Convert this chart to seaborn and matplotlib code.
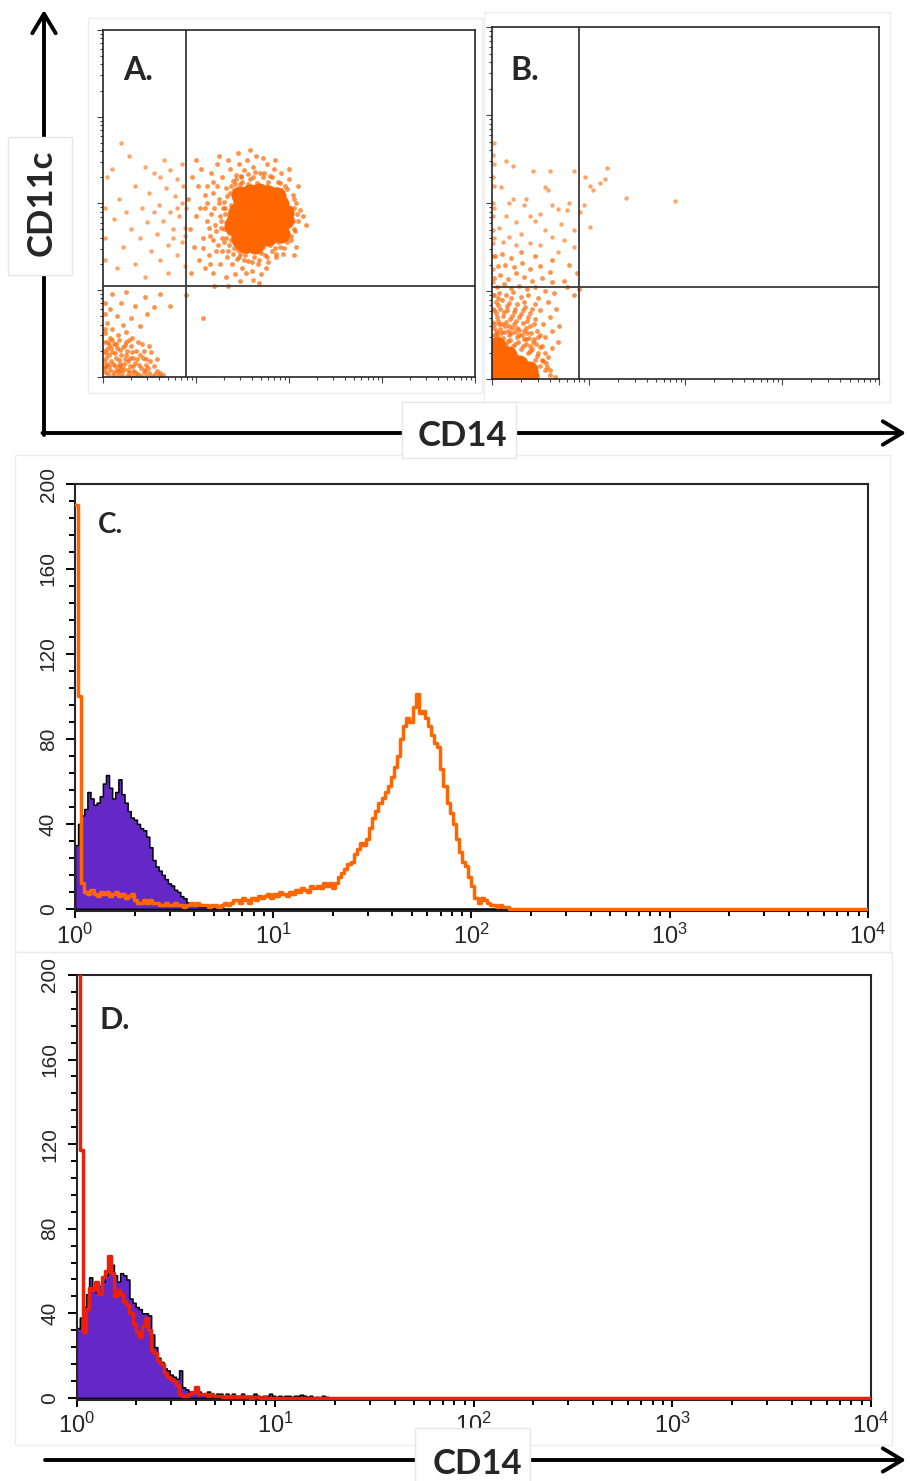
import numpy as np
import matplotlib
matplotlib.use("Agg")
import matplotlib.pyplot as plt
import matplotlib.ticker as mticker
from matplotlib.patches import Rectangle, FancyArrowPatch
import seaborn as sns

W, H = 910, 1481
sns.set_style("white")
plt.rcParams["font.family"] = ["Liberation Sans", "DejaVu Sans"]

ORANGE = "#ff6600"
PURPLE = "#6428c8"
RED = "#e8200c"
FRAME = "#262626"

# --- flow histograms: 256 log channels over 4 decades (64 per decade) ---
N_CH = 256
C_PURPLE = [30, 40, 44, 47, 55, 52, 49, 50, 53, 59, 63, 57, 52, 55, 61, 54, 50, 46, 43, 42,
            40, 38, 37, 34, 29, 23, 20, 18, 16, 14, 12, 11, 9, 8, 6, 5, 3, 3, 2, 2,
            1, 1, 1, 1, 0.5, 0.5, 1, 0.5]
C_ORANGE = [190, 100, 12,
            8, 7, 9, 7, 6, 8, 7, 8, 6, 7, 8, 6, 7, 5, 6, 7,
            4, 3, 3, 4, 3, 4, 3, 3, 2,
            2, 3, 2, 2, 3, 2, 2, 1, 2,
            3, 2, 3, 2, 2,
            2, 1, 2, 2, 1, 2,
            3, 2, 3, 4,
            4, 3, 5, 4, 3, 5, 4, 6, 5,
            6, 7, 5, 7,
            6, 8, 7, 6, 8, 7, 9,
            8, 10, 9, 8, 11, 10,
            11, 10, 12, 11, 12, 10, 12, 15,
            17, 19, 21, 22,
            26, 28, 31, 30, 33, 38,
            43, 46, 50, 52,
            55, 58, 62, 67,
            72, 80, 86, 90,
            88, 95, 101,
            92, 93, 90,
            86, 82, 78, 76,
            66, 58, 50,
            45, 40, 33,
            27, 22, 20,
            15, 11, 5,
            3, 5, 4, 3,
            2, 2, 1, 2, 1, 1]
D_PURPLE = [33, 38, 43, 49, 57, 52, 50, 53, 55, 58, 60, 63, 58, 55, 59, 58, 56, 47, 45, 43,
            42, 40, 40, 39, 30, 24, 19, 17, 14, 13, 11, 10, 9, 13, 5, 4, 3, 3, 4, 3,
            2, 2, 3, 2, 1, 2, 2, 1, 2, 1, 2, 1, 1, 2, 1, 1, 1, 2, 1, 0.5,
            1, 1, 2, 1, 0.5, 1, 0.5, 1, 1, 0.5, 1, 1, 1.5, 1, 0.5, 1, 0, 0.5, 0, 1, 0.5]
D_RED = [230, 117, 31, 42, 52, 51, 55, 49, 57, 60, 67, 59, 48, 51, 49, 46, 44, 40, 35, 31,
         29, 34, 38, 32, 22, 21, 18, 16, 12, 10, 9, 8, 6, 2, 1, 1, 2, 3, 5, 2,
         2, 2, 1, 2, 1, 1, 1, 0.5, 1, 0.5, 1, 0.5, 0.5, 1, 0.5, 0.5, 0, 0.5, 0.5, 0, 0.5]
Y_TICKS = [0, 40, 80, 120, 160, 200]
X_TICKS = [1, 10, 100, 1000, 10000]
X_TICK_LABELS = [r"$\mathregular{10^{0}}$", r"$\mathregular{10^{1}}$", r"$\mathregular{10^{2}}$",
                 r"$\mathregular{10^{3}}$", r"$\mathregular{10^{4}}$"]

# --- dot plots, coordinates in decades (log10 of intensity) ---
A_CORE = [(1.58, 2.12), (1.68, 2.13), (1.78, 2.11), (1.87, 2.08),
          (1.50, 2.02), (1.60, 2.01), (1.70, 2.00), (1.80, 2.01), (1.91, 1.99),
          (1.44, 1.90), (1.55, 1.91), (1.65, 1.90), (1.75, 1.91), (1.85, 1.90), (1.96, 1.89),
          (1.42, 1.80), (1.54, 1.81), (1.64, 1.80), (1.74, 1.79), (1.84, 1.80), (1.96, 1.81),
          (1.45, 1.69), (1.56, 1.71), (1.66, 1.70), (1.76, 1.70), (1.87, 1.71),
          (1.48, 1.59), (1.58, 1.60), (1.68, 1.59), (1.78, 1.61), (1.40, 1.74), (1.53, 1.53),
          (1.64, 1.52), (1.92, 1.65), (1.47, 2.10)]
A_HALO = [(1.05, 1.95), (1.10, 2.10), (1.12, 1.80), (1.15, 1.62), (1.18, 2.25), (1.20, 1.95),
          (1.22, 1.45), (1.25, 2.05), (1.27, 1.72), (1.28, 2.30), (1.30, 1.55), (1.31, 1.88),
          (1.33, 2.18), (1.34, 1.38), (1.36, 1.66), (1.37, 2.40), (1.38, 1.98), (1.39, 1.30),
          (1.40, 2.26), (1.41, 1.48), (1.43, 2.33), (1.44, 1.36), (1.46, 2.45), (1.47, 1.42),
          (1.49, 2.30), (1.50, 1.25), (1.52, 2.38), (1.53, 1.40), (1.55, 2.50), (1.56, 1.33),
          (1.58, 2.28), (1.60, 1.22), (1.62, 2.42), (1.63, 1.38), (1.65, 2.55), (1.67, 1.30),
          (1.69, 2.35), (1.70, 1.18), (1.72, 2.30), (1.74, 1.40), (1.76, 2.45), (1.78, 1.32),
          (1.80, 2.32), (1.82, 1.45), (1.84, 2.40), (1.86, 1.38), (1.88, 2.25), (1.90, 1.50),
          (1.92, 2.35), (1.94, 1.42), (1.96, 2.20), (1.98, 1.55), (2.00, 2.28), (2.02, 1.62),
          (2.04, 2.10), (2.06, 1.70), (2.08, 2.00), (2.10, 1.80), (2.12, 1.92), (2.15, 1.85),
          (0.92, 2.05), (0.94, 1.70), (0.96, 2.30), (0.98, 1.50), (1.00, 1.85), (1.02, 2.20),
          (1.04, 1.35), (1.06, 2.40), (1.08, 1.60), (1.10, 1.25), (1.12, 2.00), (1.14, 1.40),
          (1.16, 2.35), (1.19, 1.20), (1.21, 1.75), (1.23, 2.45), (1.26, 1.30), (1.29, 1.95),
          (1.32, 1.15), (1.35, 2.50), (1.42, 1.18), (1.48, 1.10), (1.54, 1.20), (1.61, 1.12),
          (1.68, 1.08), (1.75, 1.25), (1.45, 2.58), (1.58, 2.62), (1.72, 2.52), (1.85, 2.50),
          (2.00, 2.40), (2.08, 1.50), (2.10, 2.20), (2.18, 1.75), (1.35, 1.05), (1.20, 1.05),
          (0.95, 1.20), (1.00, 2.50), (1.25, 2.55), (2.05, 1.40), (1.28, 1.60), (1.30, 2.02),
          (1.32, 1.78), (1.35, 1.45), (1.37, 2.12), (1.40, 1.62), (1.42, 2.22), (1.45, 1.46),
          (1.50, 2.25), (1.55, 1.45), (1.62, 2.30), (1.70, 1.43), (1.78, 2.25), (1.85, 1.48),
          (1.92, 2.15), (1.98, 1.65), (2.02, 1.95), (2.04, 1.80), (1.26, 1.85), (1.24, 1.52),
          (1.30, 1.70), (1.31, 1.95), (1.33, 1.60), (1.34, 2.08), (1.36, 1.52), (1.38, 2.20),
          (1.40, 1.42), (1.43, 2.28), (1.46, 1.38), (1.49, 2.32), (1.52, 1.35), (1.56, 2.34),
          (1.60, 1.32), (1.64, 2.36), (1.68, 1.35), (1.73, 2.35), (1.77, 1.38), (1.82, 2.30),
          (1.86, 1.42), (1.90, 2.24), (1.95, 1.48), (1.98, 2.16), (2.02, 1.58), (2.05, 2.05),
          (2.07, 1.68), (2.09, 1.88), (2.06, 1.95), (1.27, 1.80), (1.25, 2.00), (1.28, 1.45),
          (1.18, 1.58), (1.16, 1.88), (1.19, 2.12), (1.22, 1.68), (1.23, 2.20), (1.14, 1.72),
          (1.10, 1.95), (1.08, 1.48), (1.12, 2.20), (1.15, 1.30), (1.36, 1.88), (1.38, 1.58),
          (1.41, 2.15), (1.44, 1.50), (1.47, 2.22), (1.50, 1.47), (1.94, 2.05), (1.97, 1.75),
          (2.00, 1.85), (1.62, 1.48), (1.72, 1.50), (1.80, 1.52), (1.66, 2.24), (1.56, 2.22),
          (1.76, 2.20), (1.86, 2.17), (1.92, 1.60), (1.88, 1.55), (1.43, 1.98), (1.40, 1.85)]
A_UPPER_LEFT = [(0.20, 2.70), (0.28, 2.55), (0.10, 2.40), (0.45, 2.42), (0.55, 2.35), (0.62, 2.30),
                (0.72, 2.38), (0.80, 2.28), (0.86, 2.20), (0.68, 2.18), (0.50, 2.12), (0.35, 2.20),
                (0.18, 2.05), (0.05, 2.30), (0.78, 2.08), (0.85, 2.00), (0.60, 1.98), (0.42, 1.95),
                (0.25, 1.90), (0.72, 1.90), (0.82, 1.85), (0.65, 1.80), (0.48, 1.78), (0.30, 1.70),
                (0.12, 1.82), (0.88, 1.72), (0.75, 1.70), (0.58, 1.65), (0.40, 1.60), (0.85, 1.55),
                (0.70, 1.52), (0.52, 1.45), (0.22, 1.50), (0.80, 1.40), (0.62, 1.35), (0.35, 1.30),
                (0.88, 1.28), (0.15, 1.25), (0.70, 1.20), (0.45, 1.15), (0.02, 1.95), (0.02, 1.60),
                (0.02, 1.35), (0.85, 2.45), (0.66, 2.50), (0.90, 1.95), (0.88, 1.62), (0.76, 1.60),
                (0.55, 1.90), (0.80, 1.95)]
A_LOWER_LEFT = [(0.10, 0.95), (0.25, 0.98), (0.45, 0.92), (0.62, 0.95), (0.20, 0.85), (0.35, 0.82),
                (0.08, 0.78), (0.55, 0.80), (0.72, 0.82), (0.15, 0.70), (0.30, 0.68), (0.48, 0.72),
                (0.05, 0.62), (0.22, 0.60), (0.40, 0.58), (0.90, 0.94), (1.08, 0.68), (0.02, 0.85),
                (0.02, 0.72), (0.02, 0.55), (0.03, 0.40), (0.08, 0.45), (0.12, 0.38), (0.18, 0.42),
                (0.25, 0.40), (0.30, 0.35), (0.36, 0.30), (0.42, 0.38), (0.05, 0.32), (0.10, 0.28),
                (0.15, 0.33), (0.20, 0.25), (0.26, 0.30), (0.33, 0.22), (0.40, 0.25), (0.47, 0.20),
                (0.52, 0.28), (0.04, 0.22), (0.09, 0.18), (0.14, 0.22), (0.19, 0.15), (0.24, 0.20),
                (0.29, 0.12), (0.35, 0.16), (0.41, 0.10), (0.46, 0.14), (0.55, 0.12), (0.03, 0.12),
                (0.08, 0.08), (0.13, 0.12), (0.18, 0.06), (0.23, 0.09), (0.28, 0.04), (0.33, 0.07),
                (0.38, 0.03), (0.44, 0.05), (0.50, 0.04), (0.58, 0.06), (0.06, 0.03), (0.11, 0.02),
                (0.16, 0.02), (0.21, 0.01), (0.26, 0.01), (0.31, 0.01), (0.36, 0.01), (0.41, 0.01),
                (0.47, 0.01), (0.53, 0.01), (0.60, 0.01), (0.65, 0.02), (0.02, 0.05), (0.01, 0.18),
                (0.01, 0.30), (0.07, 0.36), (0.22, 0.34), (0.16, 0.48), (0.32, 0.45), (0.12, 0.05),
                (0.20, 0.10), (0.27, 0.18), (0.02, 0.10), (0.05, 0.15), (0.07, 0.25), (0.09, 0.33),
                (0.11, 0.15), (0.13, 0.27), (0.15, 0.08), (0.17, 0.19), (0.19, 0.31), (0.21, 0.05),
                (0.23, 0.15), (0.25, 0.25), (0.27, 0.08), (0.29, 0.22), (0.31, 0.28), (0.33, 0.12),
                (0.35, 0.05), (0.37, 0.20), (0.39, 0.14), (0.43, 0.22), (0.45, 0.08), (0.49, 0.10),
                (0.51, 0.18), (0.56, 0.03), (0.62, 0.04), (0.04, 0.27), (0.06, 0.40), (0.10, 0.42),
                (0.14, 0.38), (0.24, 0.37), (0.28, 0.42), (0.38, 0.40), (0.44, 0.30), (0.50, 0.35),
                (0.58, 0.20), (0.03, 0.50), (0.10, 0.55), (0.25, 0.52), (0.07, 0.12), (0.17, 0.12)]

B_CORE = [(0.04, 0.04), (0.13, 0.04), (0.22, 0.04), (0.31, 0.04), (0.40, 0.03),
          (0.04, 0.13), (0.13, 0.13), (0.22, 0.12), (0.31, 0.11), (0.39, 0.10),
          (0.04, 0.22), (0.12, 0.21), (0.20, 0.20), (0.28, 0.17),
          (0.04, 0.30), (0.11, 0.29), (0.17, 0.27), (0.05, 0.37)]
B_HALO = [(0.02, 0.45), (0.08, 0.42), (0.15, 0.40), (0.22, 0.38), (0.30, 0.34), (0.38, 0.30),
          (0.45, 0.22), (0.50, 0.15), (0.55, 0.10), (0.60, 0.05), (0.65, 0.02), (0.48, 0.30),
          (0.40, 0.38), (0.33, 0.45), (0.26, 0.48), (0.18, 0.50), (0.10, 0.52), (0.04, 0.55),
          (0.02, 0.62), (0.08, 0.62), (0.14, 0.60), (0.21, 0.58), (0.28, 0.56), (0.36, 0.52),
          (0.44, 0.45), (0.52, 0.38), (0.58, 0.25), (0.05, 0.70), (0.12, 0.72), (0.19, 0.68),
          (0.25, 0.66), (0.32, 0.64), (0.40, 0.60), (0.47, 0.55), (0.55, 0.48), (0.62, 0.35),
          (0.02, 0.78), (0.09, 0.80), (0.16, 0.78), (0.23, 0.76), (0.30, 0.74), (0.38, 0.70),
          (0.45, 0.68), (0.53, 0.62), (0.62, 0.55), (0.68, 0.42), (0.04, 0.88), (0.11, 0.90),
          (0.18, 0.87), (0.26, 0.85), (0.34, 0.82), (0.42, 0.80), (0.50, 0.78), (0.60, 0.70),
          (0.70, 0.60), (0.02, 0.96), (0.08, 0.98), (0.15, 0.95), (0.22, 0.99), (0.30, 0.93),
          (0.38, 0.95), (0.48, 0.92), (0.58, 0.88), (0.66, 0.80), (0.05, 1.05), (0.13, 1.08),
          (0.20, 1.04), (0.28, 1.06), (0.36, 1.02), (0.45, 1.05), (0.55, 1.00), (0.64, 0.98),
          (0.78, 1.05), (0.85, 0.95), (0.90, 1.02), (0.02, 1.15), (0.09, 1.18), (0.17, 1.14),
          (0.25, 1.20), (0.33, 1.16), (0.42, 1.12), (0.52, 1.15), (0.62, 1.10), (0.75, 1.12),
          (0.06, 1.28), (0.14, 1.30), (0.23, 1.27), (0.31, 1.32), (0.40, 1.25), (0.50, 1.28),
          (0.60, 1.22), (0.03, 1.40), (0.11, 1.42), (0.20, 1.38), (0.30, 1.45), (0.45, 1.40),
          (0.62, 1.35), (0.80, 1.30), (0.88, 1.20), (0.07, 0.48), (0.06, 0.46), (0.12, 0.47),
          (0.19, 0.44), (0.27, 0.42), (0.35, 0.40), (0.42, 0.34), (0.53, 0.20), (0.57, 0.14),
          (0.03, 0.50), (0.09, 0.57), (0.17, 0.55), (0.24, 0.53), (0.31, 0.50), (0.39, 0.47),
          (0.46, 0.40), (0.06, 0.66), (0.15, 0.65), (0.23, 0.62), (0.35, 0.58), (0.50, 0.50),
          (0.03, 0.42), (0.10, 0.44), (0.17, 0.43), (0.24, 0.40), (0.32, 0.37), (0.40, 0.32),
          (0.47, 0.26), (0.52, 0.22), (0.56, 0.18), (0.60, 0.10), (0.05, 0.52), (0.13, 0.54),
          (0.20, 0.52), (0.28, 0.50), (0.35, 0.46), (0.43, 0.42), (0.50, 0.36), (0.55, 0.30),
          (0.02, 0.58), (0.11, 0.62), (0.18, 0.60), (0.26, 0.58), (0.33, 0.55), (0.41, 0.52),
          (0.48, 0.48), (0.04, 0.75), (0.13, 0.76), (0.21, 0.72), (0.28, 0.70), (0.36, 0.66),
          (0.44, 0.62), (0.07, 0.84), (0.16, 0.83), (0.24, 0.80), (0.32, 0.78), (0.40, 0.75),
          (0.07, 0.92), (0.20, 0.92), (0.33, 0.88), (0.45, 0.85)]
B_SPARSE = [(0.02, 2.68), (0.15, 2.48), (0.22, 2.42), (0.02, 2.45), (0.43, 2.37), (0.60, 2.37),
            (0.85, 2.37), (0.02, 2.20), (0.10, 2.18), (0.55, 2.18), (0.58, 2.15), (0.22, 2.05),
            (0.35, 2.05), (0.18, 2.00), (0.80, 2.00), (0.33, 1.98), (0.62, 1.98), (0.02, 1.95),
            (0.68, 1.93), (0.78, 1.92), (0.15, 1.85), (0.40, 1.85), (0.50, 1.88), (0.25, 1.78),
            (0.45, 1.80), (0.72, 1.76), (0.08, 1.72), (0.55, 1.70), (0.85, 1.70), (0.30, 1.65),
            (0.18, 1.62), (0.62, 1.62), (0.75, 1.58), (0.02, 1.60), (0.40, 1.55), (0.50, 1.52),
            (0.25, 1.52), (0.85, 1.50), (0.68, 1.45), (0.12, 1.56),
            (0.96, 2.30), (1.02, 2.20), (1.05, 2.15), (1.17, 2.28), (1.19, 2.40), (1.39, 2.06),
            (1.89, 2.03), (0.91, 1.90), (0.95, 1.98), (1.02, 1.73), (1.12, 2.23),
            (0.01, 0.50), (0.01, 0.65), (0.01, 0.80), (0.01, 0.95), (0.01, 1.10), (0.01, 1.25),
            (0.01, 1.40), (0.01, 1.55), (0.01, 1.70), (0.01, 1.85), (0.01, 2.00), (0.01, 2.30),
            (0.01, 2.55)]

A_GATE = (0.90, 1.05)
B_GATE = (0.90, 1.05)


def fig_xy(x, y):
    return x / W, 1 - y / H


def px_rect(left, top, right, bottom):
    return [left / W, 1 - bottom / H, (right - left) / W, (bottom - top) / H]


def style_frame(ax, lw=1.4):
    for sp in ax.spines.values():
        sp.set_visible(True)
        sp.set_color(FRAME)
        sp.set_linewidth(lw)


def dot_panel(ax, clouds, gate):
    ax.set_xscale("log")
    ax.set_yscale("log")
    for pts, size, alpha in clouds:
        xs = [10 ** p[0] for p in pts]
        ys = [10 ** p[1] for p in pts]
        sns.scatterplot(x=xs, y=ys, s=size, color=ORANGE, alpha=alpha,
                        linewidth=0, legend=False, ax=ax)
    ax.axvline(10 ** gate[0], color="#3a3a3a", linewidth=1.3)
    ax.axhline(10 ** gate[1], color="#3a3a3a", linewidth=1.3)
    ax.set_xlim(1, 1e4)
    ax.set_ylim(1, 1e4)
    ax.tick_params(which="both", direction="out", bottom=True, left=True,
                   labelbottom=False, labelleft=False, color="#444444", width=0.8)
    ax.tick_params(which="major", length=4)
    ax.tick_params(which="minor", length=2.5)
    style_frame(ax, 1.2)


def hist_panel(ax, filled, line, line_color):
    centers = 10 ** ((np.arange(N_CH) + 0.5) / 64)
    f = np.array(filled + [0] * (N_CH - len(filled)), dtype=float)
    l = np.array(line + [0] * (N_CH - len(line)), dtype=float)
    sns.histplot(x=centers, weights=f, bins=N_CH, binrange=(0, 4), log_scale=True,
                 element="step", fill=True, color=PURPLE, edgecolor="black",
                 linewidth=1.1, alpha=1, ax=ax)
    sns.histplot(x=centers, weights=l, bins=N_CH, binrange=(0, 4), log_scale=True,
                 element="step", fill=False, color=line_color, linewidth=2.5,
                 zorder=3, ax=ax)
    ax.set_xlim(1, 1e4)
    ax.set_ylim(-1, 200)
    ax.set_xlabel("")
    ax.set_ylabel("")
    ax.set_xticks(X_TICKS, X_TICK_LABELS, fontsize=17)
    ax.set_yticks(Y_TICKS, [str(v) for v in Y_TICKS], fontsize=15, rotation=90, va="center")
    ax.yaxis.set_minor_locator(mticker.MultipleLocator(8))
    ax.xaxis.set_minor_locator(mticker.LogLocator(base=10, subs=range(2, 10), numticks=20))
    ax.xaxis.set_minor_formatter(mticker.NullFormatter())
    ax.tick_params(which="both", direction="out", bottom=True, left=True,
                   color="black", width=1.4)
    ax.tick_params(axis="y", which="major", length=6.5, pad=6)
    ax.tick_params(axis="y", which="minor", length=4.3)
    ax.tick_params(axis="x", which="major", length=5, pad=4)
    ax.tick_params(axis="x", which="minor", length=3.6)
    style_frame(ax, 1.5)


fig = plt.figure(figsize=(W / 100, H / 100), dpi=100)

# faint borders of the pasted panels
for l, t, r, b in [(88, 18, 482, 393), (484, 12, 890, 402),
                   (15, 455, 890, 952), (15, 952, 892, 1445)]:
    fig.add_artist(Rectangle(fig_xy(l, b), (r - l) / W, (b - t) / H, transform=fig.transFigure,
                             facecolor="none", edgecolor="#ececec", linewidth=1, zorder=-1))

ax_a = fig.add_axes(px_rect(102.7, 30, 475, 376.7))
dot_panel(ax_a, [(A_HALO, 12, 0.7), (A_UPPER_LEFT, 10, 0.6), (A_LOWER_LEFT, 12, 0.7),
                 (A_CORE, 170, 1.0)], A_GATE)
ax_b = fig.add_axes(px_rect(491.7, 27.3, 879, 379))
dot_panel(ax_b, [(B_HALO, 12, 0.7), (B_SPARSE, 10, 0.6), (B_CORE, 170, 1.0)], B_GATE)

ax_c = fig.add_axes(px_rect(75, 484, 867.7, 911))
hist_panel(ax_c, C_PURPLE, C_ORANGE, ORANGE)
ax_d = fig.add_axes(px_rect(76.7, 975, 870.7, 1400))
hist_panel(ax_d, D_PURPLE, D_RED, RED)

# panel letters
for label, x, y, size in [("A.", 123, 80, 23), ("B.", 510, 80, 23),
                          ("C.", 98, 533, 20), ("D.", 99, 1029, 22)]:
    fig.text(*fig_xy(x, y), label, fontsize=size, fontweight="bold", family="Lato",
             ha="left", va="baseline")

# big axis arrows
arrow_kw = dict(transform=fig.transFigure, arrowstyle="->,head_length=0.7,head_width=0.42",
                mutation_scale=20, linewidth=2.8, color="black", shrinkA=0, shrinkB=0)
fig.add_artist(FancyArrowPatch(fig_xy(44, 435), fig_xy(44, 10), **arrow_kw))
fig.add_artist(FancyArrowPatch(fig_xy(42.5, 433), fig_xy(906, 433), **arrow_kw))
fig.add_artist(FancyArrowPatch(fig_xy(45, 1460), fig_xy(906, 1460), **arrow_kw))

# label boxes on the arrows
for l, t, r, b in [(8, 137, 72, 275), (402, 402, 516, 458), (415, 1428, 530, 1490)]:
    fig.add_artist(Rectangle(fig_xy(l, b), (r - l) / W, (b - t) / H, transform=fig.transFigure,
                             facecolor="white", edgecolor="#e6e6e6", linewidth=1, zorder=1))

fig.text(*fig_xy(42, 203), "CD11c", rotation=90, fontsize=25, fontweight="bold",
         family="Lato", ha="center", va="center", zorder=4)
fig.text(*fig_xy(462, 436), "CD14", fontsize=25, fontweight="bold",
         family="Lato", ha="center", va="center", zorder=4)
fig.text(*fig_xy(477, 1464), "CD14", fontsize=25, fontweight="bold",
         family="Lato", ha="center", va="center", zorder=4)

fig.savefig("out.png", dpi=100)
